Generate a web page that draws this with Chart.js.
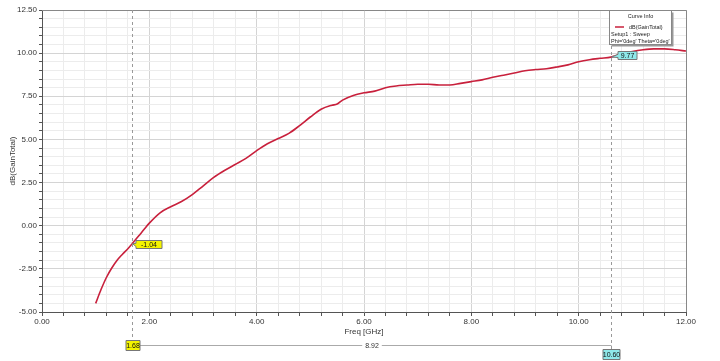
<!DOCTYPE html>
<html>
<head>
<meta charset="utf-8">
<script src="https://cdn.jsdelivr.net/npm/chart.js@4.4.1/dist/chart.umd.min.js"></script>
<style>
  html, body { margin: 0; padding: 0; background: #fff; }
  #wrap { width: 720px; height: 361px; position: relative; }
</style>
</head>
<body>
<div id="wrap"><canvas id="gainChart"></canvas></div>
<script>
// Curve: dB(GainTotal) vs frequency
const freqGHz = [1.0, 1.1, 1.2, 1.3, 1.4, 1.5, 1.6, 1.68, 1.8, 1.9, 2.0, 2.2, 2.4, 2.6, 2.8,
  3.0, 3.2, 3.4, 3.6, 3.8, 4.0, 4.2, 4.4, 4.6, 4.8, 5.0, 5.2, 5.4, 5.5, 5.6, 5.8,
  6.0, 6.2, 6.4, 6.6, 6.8, 7.0, 7.2, 7.4, 7.6, 7.8, 8.0, 8.2, 8.4, 8.6, 8.8,
  9.0, 9.2, 9.4, 9.6, 9.8, 10.0, 10.2, 10.4, 10.6, 10.8, 11.0, 11.2, 11.4, 11.6, 11.8, 12.0];
const gainDb = [-4.5, -3.7, -3.0, -2.45, -2.0, -1.65, -1.33, -1.04, -0.6, -0.22, 0.15, 0.75, 1.1, 1.4, 1.8,
  2.3, 2.8, 3.2, 3.55, 3.9, 4.35, 4.75, 5.05, 5.35, 5.8, 6.3, 6.75, 6.98, 7.05, 7.28, 7.55,
  7.7, 7.8, 8.0, 8.1, 8.15, 8.2, 8.2, 8.15, 8.15, 8.25, 8.35, 8.45, 8.6, 8.72, 8.85,
  8.98, 9.05, 9.1, 9.2, 9.32, 9.5, 9.62, 9.7, 9.77, 9.95, 10.1, 10.2, 10.25, 10.25, 10.2, 10.12];

// markers m1 / m2
const markerFreq = [1.68, 10.60];
const markerVal = ['-1.04', '9.77'];
const markerDelta = '8.92';

const legendLines = ['Curve Info', 'dB(GainTotal)', 'Setup1 : Sweep', "Phi='0deg' Theta='0deg'"];

const FONT = '"Liberation Sans", Arial, sans-serif';

function isMult(v, step) {
  return Math.abs(v / step - Math.round(v / step)) < 1e-6;
}

function box(ctx, x, y, w, h, fill, text, arrow) {
  ctx.save();
  ctx.fillStyle = fill;
  ctx.strokeStyle = '#777';
  ctx.lineWidth = 1;
  ctx.beginPath();
  if (arrow) {
    ctx.moveTo(x, y);
    ctx.lineTo(x + w, y);
    ctx.lineTo(x + w, y + h);
    ctx.lineTo(x, y + h);
    ctx.lineTo(x, y + h * 0.75);
    ctx.lineTo(arrow.x, arrow.y);
    ctx.lineTo(x, y + h * 0.35);
    ctx.closePath();
  } else {
    ctx.rect(x, y, w, h);
  }
  ctx.fill();
  ctx.stroke();
  ctx.fillStyle = '#111';
  ctx.font = '7px ' + FONT;
  ctx.textAlign = 'center';
  ctx.textBaseline = 'middle';
  ctx.fillText(text, x + w / 2, y + h / 2 + 0.5);
  ctx.restore();
}

const overlay = {
  id: 'overlay',
  afterDraw(chart) {
    const ctx = chart.ctx;
    const xs = chart.scales.x, ys = chart.scales.y;
    const area = chart.chartArea;

    // plot frame top/right
    ctx.save();
    ctx.strokeStyle = '#888';
    ctx.lineWidth = 1;
    ctx.beginPath();
    ctx.moveTo(area.left, area.top + 0.5);
    ctx.lineTo(area.right + 0.5, area.top + 0.5);
    ctx.lineTo(area.right + 0.5, area.bottom);
    ctx.stroke();
    ctx.restore();

    const x1 = Math.round(xs.getPixelForValue(markerFreq[0])) + 0.5;
    const x2 = Math.round(xs.getPixelForValue(markerFreq[1])) + 0.5;

    // dashed marker lines
    ctx.save();
    ctx.strokeStyle = '#999';
    ctx.setLineDash([3, 3]);
    ctx.lineWidth = 1;
    ctx.beginPath();
    ctx.moveTo(x1, area.top);
    ctx.lineTo(x1, 342);
    ctx.moveTo(x2, area.top);
    ctx.lineTo(x2, 350);
    ctx.stroke();
    ctx.setLineDash([]);

    // delta line
    ctx.strokeStyle = '#aaa';
    ctx.beginPath();
    ctx.moveTo(x1 + 7, 345.5);
    ctx.lineTo(x2, 345.5);
    ctx.stroke();
    ctx.font = '7px ' + FONT;
    const mid = (x1 + x2) / 2;
    const tw = ctx.measureText(markerDelta).width;
    ctx.fillStyle = '#fff';
    ctx.fillRect(mid - tw / 2 - 3, 341, tw + 6, 9);
    ctx.fillStyle = '#333';
    ctx.textAlign = 'center';
    ctx.textBaseline = 'middle';
    ctx.fillText(markerDelta, mid, 346);
    ctx.restore();

    // bottom marker boxes
    box(ctx, x1 - 6.5, 340.5, 14, 10, '#f4f400', markerFreq[0].toFixed(2));
    box(ctx, x2 - 8.5, 349.5, 17, 10, '#8fe9ea', markerFreq[1].toFixed(2));

    // value labels on curve
    const y1 = ys.getPixelForValue(parseFloat(markerVal[0]));
    const y2 = ys.getPixelForValue(parseFloat(markerVal[1]));
    box(ctx, x1 + 3.5, Math.round(y1) - 3.5, 26, 8, '#f4f400', markerVal[0], { x: x1, y: y1 });
    box(ctx, x2 + 6.5, Math.round(y2) - 5.5, 19, 8, '#8fe9ea', markerVal[1], { x: x2, y: y2 });

    // curve info legend
    ctx.save();
    const lx = 609.5, ly = 10.5, lw = 62, lh = 34;
    ctx.fillStyle = '#999';
    ctx.fillRect(lx + 2, ly + 2, lw, lh);
    ctx.fillStyle = '#fff';
    ctx.fillRect(lx, ly, lw, lh);
    ctx.strokeStyle = '#888';
    ctx.lineWidth = 1;
    ctx.strokeRect(lx, ly, lw, lh);
    ctx.fillStyle = '#222';
    ctx.font = '5.5px ' + FONT;
    ctx.textBaseline = 'middle';
    ctx.textAlign = 'center';
    ctx.fillText(legendLines[0], lx + lw / 2, 16);
    ctx.textAlign = 'left';
    ctx.strokeStyle = '#c8203c';
    ctx.lineWidth = 1.5;
    ctx.beginPath();
    ctx.moveTo(615, 27);
    ctx.lineTo(624, 27);
    ctx.stroke();
    ctx.fillText(legendLines[1], 629, 27.5);
    ctx.fillText(legendLines[2], 611, 34.5);
    ctx.fillText(legendLines[3], 611, 41);
    ctx.restore();
  }
};

new Chart(document.getElementById('gainChart').getContext('2d'), {
  type: 'line',
  data: {
    datasets: [{
      label: 'dB(GainTotal)',
      data: freqGHz.map((f, i) => ({ x: f, y: gainDb[i] })),
      borderColor: '#c8203c',
      borderWidth: 1.6,
      pointRadius: 0,
      tension: 0.4,
      cubicInterpolationMode: 'monotone',
      fill: false
    }]
  },
  options: {
    responsive: true,
    maintainAspectRatio: false,
    animation: false,
    layout: { padding: { top: 10, right: 34, bottom: 0, left: 0 } },
    plugins: { legend: { display: false }, tooltip: { enabled: false } },
    scales: {
      x: {
        type: 'linear',
        min: 0,
        max: 12,
        afterFit: s => { s.height = 49; },
        ticks: {
          stepSize: 0.4,
          autoSkip: false,
          maxRotation: 0,
          padding: 1,
          color: '#333',
          font: { family: FONT, size: 8 },
          callback: v => isMult(v, 2) ? v.toFixed(2) : ''
        },
        grid: {
          color: c => isMult(c.tick.value, 2) ? '#d4d4d4' : '#ececec',
          tickColor: '#555',
          tickLength: 4
        },
        border: { color: '#555' },
        title: {
          display: true,
          text: 'Freq [GHz]',
          color: '#333',
          font: { family: FONT, size: 8 },
          padding: { top: 1, bottom: 24 }
        }
      },
      y: {
        min: -5,
        max: 12.5,
        afterFit: s => { s.width = 42; },
        ticks: {
          stepSize: 0.5,
          autoSkip: false,
          padding: 2,
          color: '#333',
          font: { family: FONT, size: 8 },
          callback: v => isMult(v, 2.5) ? v.toFixed(2) : ''
        },
        grid: {
          color: c => isMult(c.tick.value, 2.5) ? '#d4d4d4' : '#ececec',
          tickColor: '#555',
          tickLength: 3
        },
        border: { color: '#555' },
        title: {
          display: true,
          text: 'dB(GainTotal)',
          color: '#333',
          font: { family: FONT, size: 8 },
          padding: { top: 8, bottom: 0 }
        }
      }
    }
  },
  plugins: [overlay]
});
</script>
</body>
</html>
